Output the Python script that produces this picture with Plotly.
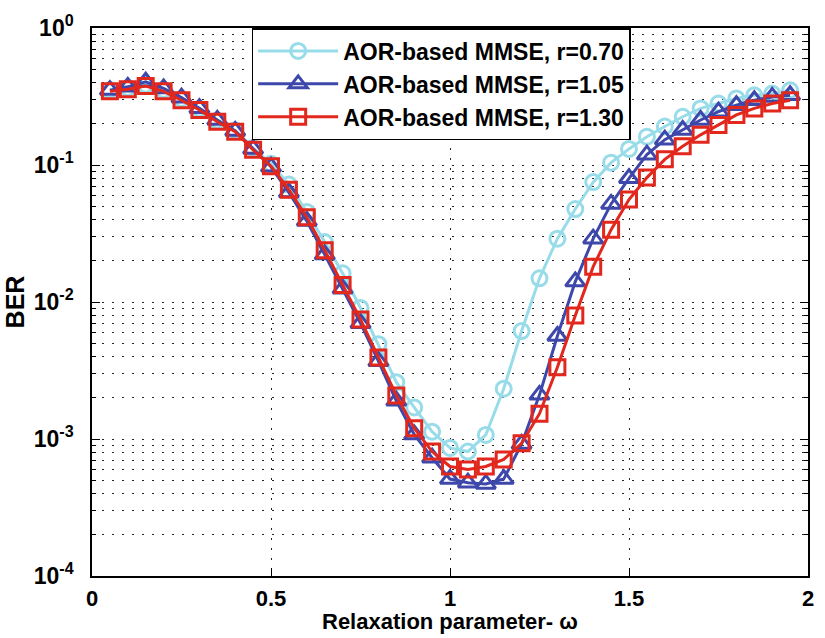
import plotly.graph_objects as go

omega = [round(0.05 * i, 2) for i in range(1, 40)]

ber_r070 = [0.352, 0.365, 0.385, 0.352, 0.303, 0.257, 0.211, 0.179, 0.133, 0.102,
            0.072, 0.0454, 0.0274, 0.0162, 0.00905, 0.00492, 0.00260, 0.00170, 0.00113, 0.00086,
            0.00081, 0.00107, 0.00233, 0.00614, 0.0149, 0.029, 0.0477, 0.075, 0.104, 0.131,
            0.161, 0.191, 0.225, 0.259, 0.281, 0.306, 0.323, 0.332, 0.351]

ber_r105 = [0.352, 0.372, 0.405, 0.362, 0.310, 0.260, 0.213, 0.177, 0.131, 0.097,
            0.063, 0.039, 0.0222, 0.0125, 0.0070, 0.0037, 0.0019, 0.00108, 0.00073, 0.00051,
            0.00048, 0.00047, 0.00051, 0.00092, 0.0021, 0.00565, 0.0141, 0.029, 0.052, 0.080,
            0.119, 0.153, 0.180, 0.213, 0.245, 0.273, 0.297, 0.314, 0.323]

ber_r130 = [0.345, 0.357, 0.377, 0.345, 0.297, 0.252, 0.207, 0.175, 0.129, 0.098,
            0.066, 0.0416, 0.0239, 0.0133, 0.00745, 0.00394, 0.00208, 0.00120, 0.00081, 0.00063,
            0.00060, 0.00063, 0.00071, 0.00093, 0.00153, 0.00334, 0.00796, 0.0181, 0.0337, 0.056,
            0.0809, 0.110, 0.137, 0.166, 0.196, 0.232, 0.259, 0.281, 0.297]

names = ["AOR-based MMSE, r=0.70", "AOR-based MMSE, r=1.05", "AOR-based MMSE, r=1.30"]
colors = ["#98DCE9", "#3E48AA", "#E2271D"]
symbols = ["circle-open", "triangle-up-open", "square-open"]
sizes = [15, 17, 15]

x_ticks = [0, 0.5, 1, 1.5, 2]
x_ticktext = ["0", "0.5", "1", "1.5", "2"]
y_ticks = [1e-4, 1e-3, 1e-2, 1e-1, 1e0]
y_ticktext = ["10<sup>-4</sup>", "10<sup>-3</sup>", "10<sup>-2</sup>", "10<sup>-1</sup>", "10<sup>0</sup>"]
y_minor = [m * 10.0 ** e for e in range(-4, 0) for m in range(2, 10)]
x_title = "Relaxation parameter- ω"
y_title = "BER"

FONT = "Liberation Sans, Arial, Helvetica, sans-serif"

fig = go.Figure()
for y, n, c, s, sz in zip([ber_r070, ber_r105, ber_r130], names, colors, symbols, sizes):
    fig.add_trace(go.Scatter(
        x=omega, y=y, name=n, mode="lines+markers",
        line=dict(color=c, width=3),
        marker=dict(symbol=s, size=sz, color=c, line=dict(color=c, width=3)),
    ))

GRIDC = "rgba(0,0,0,0.85)"
DASH = "2px,8px"

fig.update_layout(
    width=825, height=638,
    margin=dict(l=92, r=11, t=20, b=62),
    paper_bgcolor="white", plot_bgcolor="white",
    font=dict(family=FONT, size=22, color="black", weight="bold"),
    showlegend=True,
    legend=dict(
        x=0.223, y=1.0, xanchor="left", yanchor="top",
        bgcolor="white", bordercolor="black", borderwidth=1.5,
        font=dict(family=FONT, size=23, color="black", weight="bold"),
        itemwidth=80, tracegroupgap=0,
    ),
    xaxis=dict(
        range=[0, 2], tickmode="array", tickvals=x_ticks, ticktext=x_ticktext,
        showline=True, linecolor="black", linewidth=1.5, mirror="allticks",
        ticks="inside", ticklen=8, tickcolor="black", tickwidth=1.2,
        zeroline=False, ticklabelstandoff=2,
        showgrid=True, gridcolor=GRIDC, gridwidth=1, griddash=DASH,
        tickfont=dict(family=FONT, size=22, weight="bold"),
    ),
    yaxis=dict(
        type="log", range=[-4, 0], tickmode="array", tickvals=y_ticks, ticktext=y_ticktext,
        showline=True, linecolor="black", linewidth=1.5, mirror="allticks",
        ticks="inside", ticklen=8, tickcolor="black", tickwidth=1.2,
        zeroline=False, ticklabelstandoff=12,
        showgrid=True, gridcolor=GRIDC, gridwidth=1, griddash=DASH,
        title=dict(text=y_title, standoff=2, font=dict(family=FONT, size=25, weight="bold")),
        tickfont=dict(family=FONT, size=23, weight="bold"),
        minor=dict(tickmode="array", tickvals=y_minor, ticks="inside", ticklen=4,
                   tickcolor="black", showgrid=True, gridcolor=GRIDC,
                   gridwidth=1, griddash=DASH),
    ),
    annotations=[dict(
        text=x_title, xref="paper", yref="paper", x=0.5, y=-0.083,
        xanchor="center", yanchor="middle", showarrow=False,
        font=dict(family=FONT, size=22, color="black", weight="bold"),
    )],
)

fig.write_html(
    "out.html",
    config={"displayModeBar": False},
    post_script="document.body.style.margin='0';document.body.style.overflow='hidden';",
)
